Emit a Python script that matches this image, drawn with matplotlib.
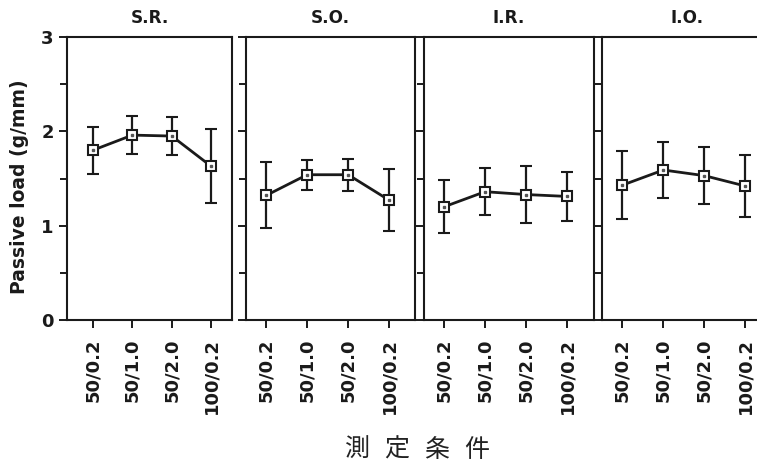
import matplotlib
matplotlib.use("Agg")
import matplotlib.pyplot as plt
import numpy as np

conditions = ["50/0.2", "50/1.0", "50/2.0", "100/0.2"]
panels = ["S.R.", "S.O.", "I.R.", "I.O."]
sr_mean = [1.80, 1.96, 1.95, 1.63]
sr_err = [0.25, 0.20, 0.20, 0.39]
so_mean = [1.32, 1.54, 1.54, 1.27]
so_err = [0.35, 0.16, 0.17, 0.33]
ir_mean = [1.20, 1.36, 1.33, 1.31]
ir_err = [0.28, 0.25, 0.30, 0.26]
io_mean = [1.43, 1.59, 1.53, 1.42]
io_err = [0.36, 0.30, 0.30, 0.33]
means = [sr_mean, so_mean, ir_mean, io_mean]
errs = [sr_err, so_err, ir_err, io_err]
xlabel = "測定条件"

W, H = 757, 468
fig = plt.figure(figsize=(W / 100, H / 100), dpi=100)
fig.patch.set_facecolor("white")

# pixel boxes: (left, right, xlim_left, xlim_right)
boxes = [(67, 232, -0.66, 3.53), (246, 415, -0.49, 3.63),
         (424, 594, -0.49, 3.66), (602, 772, -0.50, 3.65)]
top_px, bot_px = 37, 320
font = "DejaVu Sans"
ink = "#1a1a1a"

for i, (name, m, e) in enumerate(zip(panels, means, errs)):
    l, r, xl, xr = boxes[i]
    ax = fig.add_axes([l / W, 1 - bot_px / H, (r - l) / W, (bot_px - top_px) / H])
    x = np.arange(len(conditions))
    ax.errorbar(x, m, yerr=e, color=ink, lw=2.0, elinewidth=1.6,
                capsize=4.5, capthick=1.6, marker="s", ms=7, mfc="white",
                mec=ink, mew=1.5, zorder=3)
    ax.plot(x, m, "s", ms=2, color="#555555", zorder=4)
    ax.set_xlim(xl, xr)
    ax.set_ylim(0, 3)
    ax.set_xticks(x)
    ax.set_xticklabels(conditions, rotation=90, fontsize=13,
                       fontweight="bold", family=font, color=ink)
    ax.set_yticks([0, 1, 2, 3])
    ax.set_yticks([0.5, 1.5, 2.5], minor=True)
    for s in ax.spines.values():
        s.set_linewidth(1.5)
        s.set_color(ink)
    ax.tick_params(axis="both", which="both", direction="out", width=1.4,
                   color=ink)
    ax.tick_params(axis="y", which="major", length=6)
    ax.tick_params(axis="y", which="minor", length=5)
    ax.tick_params(axis="x", length=6, pad=7)
    if i == 0:
        ax.set_yticklabels(["0", "1", "2", "3"], fontsize=13,
                           fontweight="bold", family=font, color=ink)
        ax.set_ylabel("Passive load (g/mm)", fontsize=13.5, fontweight="bold",
                      family=font, color=ink, va="center")
        ax.yaxis.set_label_coords(-0.285, 0.47)
    else:
        ax.set_yticklabels([])
    ax.set_title(name, fontsize=12.2, fontweight="bold", family=font,
                 pad=10, color=ink)

# spaced-out axis title, one glyph per slot
char_x = [357, 397, 437, 477]
for ch, cx in zip(xlabel, char_x):
    fig.text(cx / W, 1 - 450 / H, ch, ha="center", va="center",
             fontsize=18, color="#222222",
             family=["Noto Sans CJK JP", "DejaVu Sans"])

fig.savefig("out.png", dpi=100, facecolor="white")
